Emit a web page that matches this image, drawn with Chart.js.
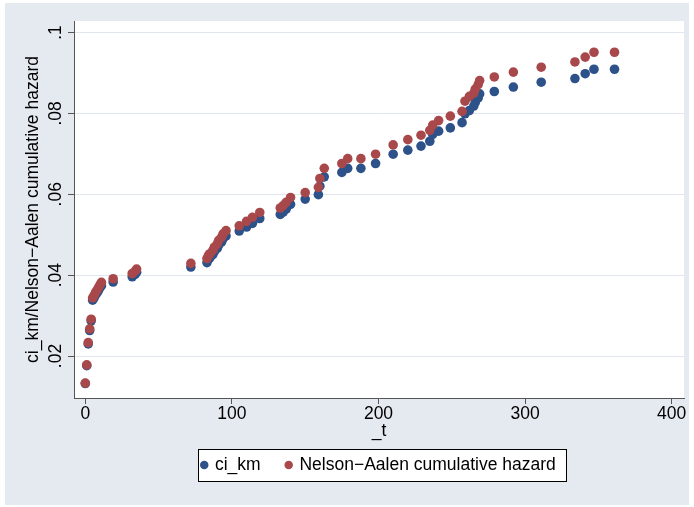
<!DOCTYPE html>
<html><head><meta charset="utf-8">
<script src="https://cdn.jsdelivr.net/npm/chart.js@4/dist/chart.umd.min.js"></script>
<style>html,body{margin:0;padding:0;background:#fff;} canvas{display:block;}</style>
</head><body>
<canvas id="c" width="694" height="507"></canvas>
<script>
// ---- data ----
const timeT = [0,1,2,3,4,5,6,7,8,9,10,11,19,32,34,35,72,83,84,85,87,88,90,91,93,94,96,105,110,114,119,133,135,137,140,150,159,160,163,175,179,188,198,210,220,229,235,237,241,249,257,259,262,265,266,268,269,279,292,311,334,341,347,361];
const ciKm = [0.0132,0.0176,0.0230,0.0263,0.0287,0.0338,0.0344,0.0351,0.0356,0.0362,0.0369,0.0374,0.0383,0.0396,0.0402,0.0407,0.0420,0.0431,0.0439,0.0443,0.0451,0.0458,0.0466,0.0474,0.0482,0.0490,0.0497,0.0509,0.0519,0.0528,0.0540,0.0550,0.0556,0.0563,0.0575,0.0588,0.0599,0.0620,0.0643,0.0654,0.0664,0.0664,0.0676,0.0699,0.0709,0.0719,0.0731,0.0748,0.0756,0.0764,0.0777,0.0799,0.0807,0.0818,0.0827,0.0838,0.0848,0.0854,0.0865,0.0877,0.0886,0.0898,0.0909,0.0909];
const nelsonAalen = [0.0133,0.0178,0.0233,0.0267,0.0291,0.0344,0.0350,0.0357,0.0363,0.0369,0.0376,0.0382,0.0391,0.0404,0.0410,0.0415,0.0429,0.0441,0.0449,0.0453,0.0461,0.0469,0.0477,0.0486,0.0494,0.0502,0.0510,0.0522,0.0533,0.0543,0.0555,0.0566,0.0572,0.0580,0.0592,0.0604,0.0617,0.0639,0.0664,0.0676,0.0688,0.0688,0.0699,0.0722,0.0735,0.0746,0.0758,0.0771,0.0782,0.0793,0.0805,0.0830,0.0842,0.0850,0.0860,0.0871,0.0881,0.0890,0.0902,0.0914,0.0927,0.0939,0.0951,0.0951];
const xTickValues = [0,100,200,300,400];
const yTickValues = [0.02,0.04,0.06,0.08,0.1];
const seriesLabels = ['ci_km','Nelson\u2212Aalen cumulative hazard'];
const xTitle = '_t';
const yTitle = 'ci_km/Nelson\u2212Aalen cumulative hazard';

const FONT = 'Liberation Sans, Arial, Helvetica, sans-serif';
const BLUE = '#2d5289', RED = '#a8484b';
const PANEL = '#e5e9f0', GRID = '#e1e6ee', AXIS = '#555555';

const pts = (ys) => timeT.map((t, i) => ({x: t, y: ys[i]}));

const backgrounds = {
  id: 'backgrounds',
  beforeDraw(chart) {
    const {ctx, chartArea: a} = chart;
    ctx.save();
    ctx.fillStyle = '#ffffff';
    ctx.fillRect(0, 0, chart.width, chart.height);
    ctx.fillStyle = PANEL;
    ctx.fillRect(5, 3, 684, 502);
    ctx.fillStyle = '#ffffff';
    ctx.fillRect(a.left, a.top, a.right - a.left, a.bottom - a.top);
    // legend frame
    const hb = chart.legend.legendHitBoxes;
    if (hb && hb.length) {
      const l = Math.min(...hb.map(h => h.left)) - 4;
      const r = Math.max(...hb.map(h => h.left + h.width)) + 10;
      const cy = hb[0].top + hb[0].height / 2;
      ctx.fillStyle = '#ffffff';
      ctx.fillRect(l, cy - 16, r - l, 32);
      ctx.strokeStyle = '#000000';
      ctx.lineWidth = 1;
      ctx.strokeRect(Math.round(l) + 0.5, Math.round(cy - 16) + 0.5, Math.round(r - l), 32);
    }
    ctx.restore();
  }
};

new Chart(document.getElementById('c'), {
  type: 'scatter',
  data: {
    datasets: [
      {label: seriesLabels[0], data: pts(ciKm), backgroundColor: BLUE, borderColor: BLUE, pointRadius: 4.8, pointBorderWidth: 0, order: 1},
      {label: seriesLabels[1], data: pts(nelsonAalen), backgroundColor: RED, borderColor: RED, pointRadius: 4.8, pointBorderWidth: 0, order: 0}
    ]
  },
  options: {
    responsive: false,
    animation: false,
    devicePixelRatio: 1,
    layout: {padding: {left: 0, right: 10, top: 21, bottom: 23.25}},
    font: {family: FONT},
    plugins: {
      tooltip: {enabled: false},
      legend: {
        position: 'bottom',
        fullSize: false,
        labels: {
          sort: (a, b) => a.datasetIndex - b.datasetIndex,
          usePointStyle: true, pointStyle: 'circle',
          boxWidth: 4, boxHeight: 6, padding: 26,
          color: '#000', font: {family: FONT, size: 17.5}
        }
      }
    },
    scales: {
      x: {
        type: 'linear', min: -7.71, max: 408.4,
        afterBuildTicks: (s) => { s.ticks = xTickValues.map(v => ({value: v})); },
        afterFit: (s) => { s.height = 32.25; },
        ticks: {color: '#000', font: {family: FONT, size: 17.5}, padding: 0, maxRotation: 0, callback: (v) => String(v)},
        grid: {drawOnChartArea: false, drawTicks: true, tickLength: 6, tickColor: AXIS},
        border: {display: true, color: AXIS, width: 1},
        title: {display: true, text: xTitle, color: '#000', font: {family: FONT, size: 17.5}, padding: {top: 0, bottom: -11.25}}
      },
      y: {
        type: 'linear', min: 0.00962, max: 0.10283,
        afterBuildTicks: (s) => { s.ticks = yTickValues.map(v => ({value: v})); },
        afterFit: (s) => { s.width = 74; },
        ticks: {color: '#000', font: {family: FONT, size: 17.5}, padding: 0, minRotation: 90, maxRotation: 90, crossAlign: 'center',
          callback: (v) => String(Number(v.toFixed(2))).replace(/^0/, '')},
        grid: {color: GRID, lineWidth: 1, drawTicks: true, tickLength: 6, tickColor: AXIS},
        border: {display: true, color: AXIS, width: 1},
        title: {display: true, text: yTitle, color: '#000', font: {family: FONT, size: 17.5}, padding: {top: 22.5, bottom: 0}}
      }
    }
  },
  plugins: [backgrounds]
});
</script>
</body></html>
